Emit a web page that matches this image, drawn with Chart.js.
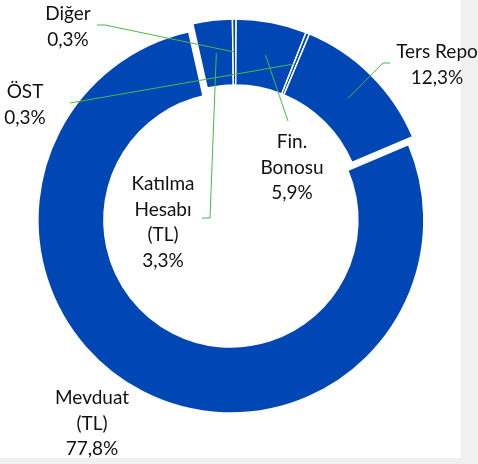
<!DOCTYPE html>
<html lang="tr">
<head>
<meta charset="UTF-8">
<title>Portföy Dağılımı</title>
<script src="https://cdn.jsdelivr.net/npm/chart.js"></script>
<style>
  html, body { margin: 0; padding: 0; background: #f0f0f0; }
  .chart-box { position: relative; width: 478px; height: 464px; }
</style>
</head>
<body>
<div class="chart-box"><canvas id="pieChart"></canvas></div>
<script>
const categories = ['Mevduat (TL)', 'Katılma Hesabı (TL)', 'Diğer', 'Fin. Bonosu', 'ÖST', 'Ters Repo'];
const shares = [77.8, 3.3, 0.3, 5.9, 0.3, 12.3];
const explodeBy = [9, 0, 0, 0, 0, 0];

// where the labels go: text lines, text centre x, first line y, leader elbow points
const labelSpots = [
    { lines: ['Mevduat', '(TL)'], x: 92, y: 398, leader: null },
    { lines: ['Katılma', 'Hesabı', '(TL)'], x: 163, y: 184, leader: [[210, 218], [202, 218]] },
    { lines: ['Diğer'], x: 68, y: 14, leader: [[105, 25], [97, 25]] },
    { lines: ['Fin.', 'Bonosu'], x: 292, y: 142, leader: [[288, 121]] },
    { lines: ['ÖST'], x: 25, y: 92, leader: [[70, 103]] },
    { lines: ['Ters Repo'], x: 437, y: 52, leader: [[383, 63], [390, 63]] }
];

function pct(v) {
    return v.toFixed(1).replace('.', ',') + '%';
}

const backdrop = {
    id: 'backdrop',
    beforeDraw(chart) {
        const ctx = chart.ctx;
        ctx.save();
        ctx.fillStyle = '#f0f0f0';
        ctx.fillRect(0, 0, chart.width, chart.height);
        ctx.fillStyle = '#ffffff';
        ctx.fillRect(0, 0, 461, 458);
        ctx.restore();
    }
};

// pull single slices out from the centre along their mid angle
const explode = {
    id: 'explode',
    afterDatasetsUpdate(chart) {
        chart.getDatasetMeta(0).data.forEach((arc, i) => {
            const d = explodeBy[i] || 0;
            if (!d) return;
            const mid = (arc.startAngle + arc.endAngle) / 2;
            arc.x += Math.cos(mid) * d;
            arc.y += Math.sin(mid) * d;
        });
    }
};

const callouts = {
    id: 'callouts',
    afterDraw(chart) {
        const ctx = chart.ctx;
        const arcs = chart.getDatasetMeta(0).data;
        ctx.save();
        labelSpots.forEach((spot, i) => {
            if (spot.leader) {
                const p = arcs[i].getCenterPoint();
                ctx.beginPath();
                ctx.moveTo(p.x, p.y);
                spot.leader.forEach(([x, y]) => ctx.lineTo(x, y));
                ctx.strokeStyle = '#4cb848';
                ctx.lineWidth = 1;
                ctx.stroke();
            }
            const text = spot.lines.concat(pct(shares[i]));
            ctx.fillStyle = '#111111';
            ctx.font = '19px Lato';
            ctx.textAlign = 'center';
            ctx.textBaseline = 'middle';
            text.forEach((t, k) => ctx.fillText(t, spot.x, spot.y + k * 25.5));
        });
        ctx.restore();
    }
};

new Chart(document.getElementById('pieChart'), {
    type: 'doughnut',
    data: {
        labels: categories,
        datasets: [{
            data: shares,
            backgroundColor: '#0046b4',
            borderColor: '#ffffff',
            borderWidth: 1.5
        }]
    },
    options: {
        responsive: true,
        maintainAspectRatio: false,
        animation: false,
        events: [],
        rotation: 67,
        radius: 193,
        cutout: '65.8%',
        layout: { padding: { left: 0, right: 8, top: 0, bottom: 40 } },
        plugins: {
            legend: { display: false },
            tooltip: { enabled: false }
        }
    },
    plugins: [backdrop, explode, callouts]
});
</script>
</body>
</html>
